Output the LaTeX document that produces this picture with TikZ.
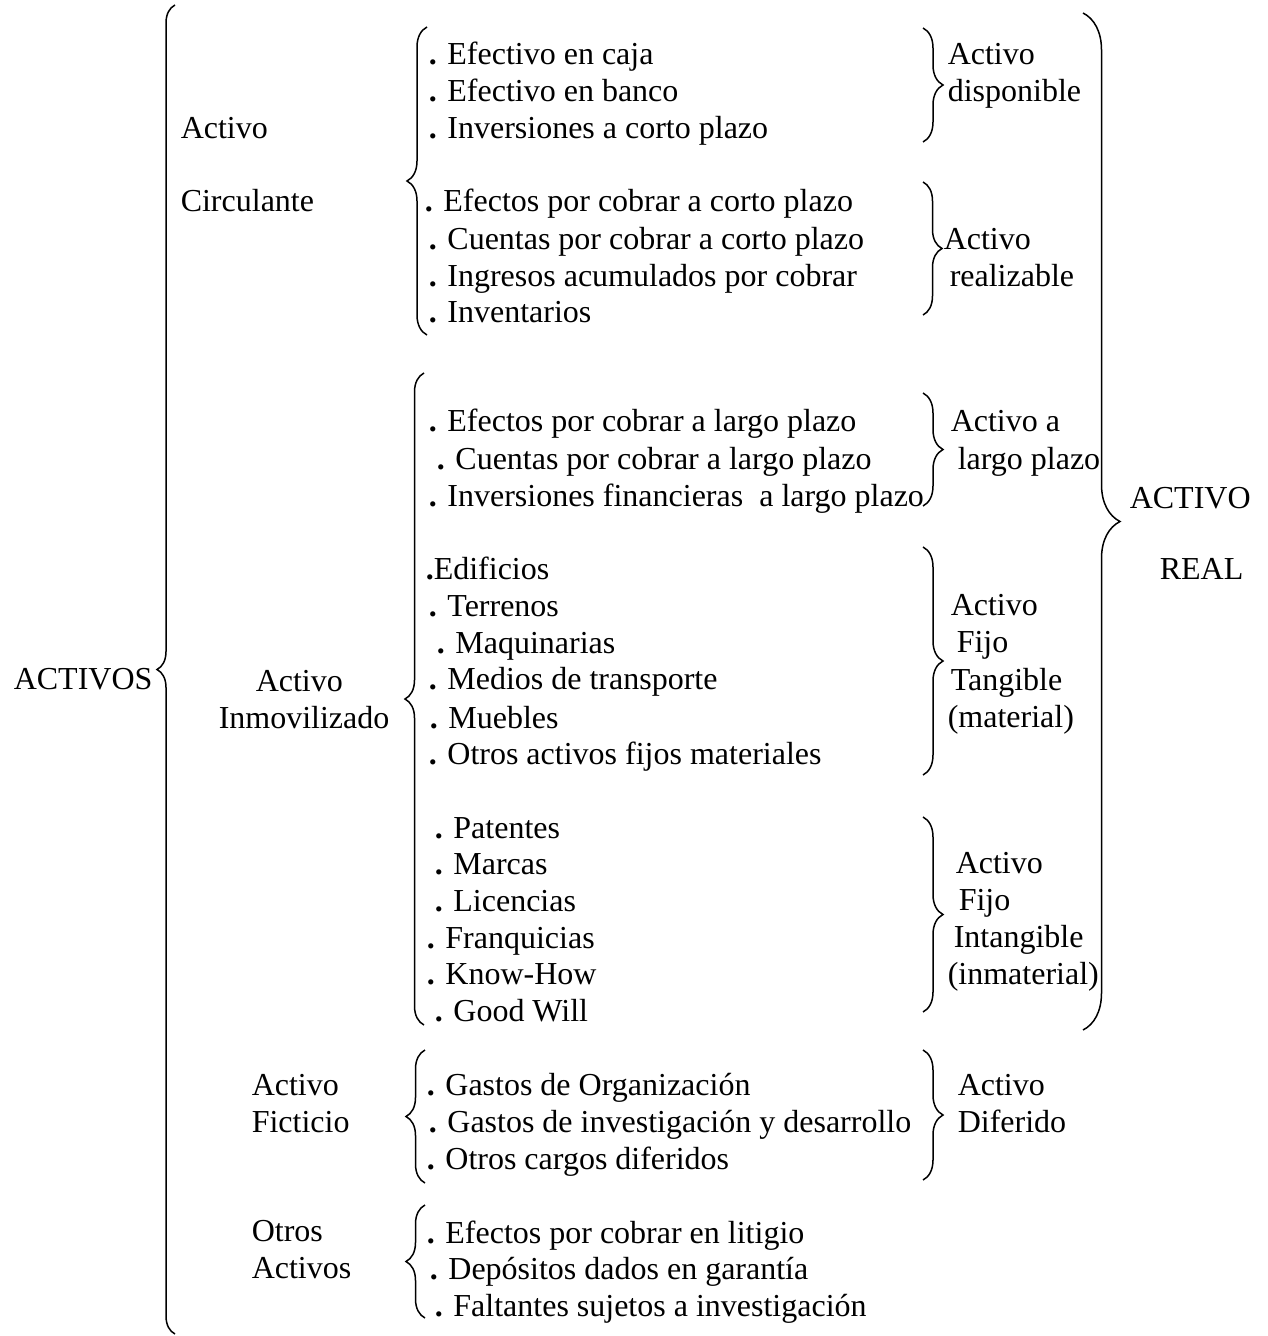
\documentclass[tikz,border=0pt]{standalone}
\usepackage{fontspec}
\setmainfont{Liberation Serif}
\usetikzlibrary{decorations.pathreplacing}

\begin{document}
\begin{tikzpicture}[x=1pt,y=-1pt,line width=1.5pt,
  txt/.style={anchor=base west,inner sep=0pt,font=\fontsize{32}{37}\selectfont},
  curly/.style={decorate,decoration={brace,amplitude=#1}},
  curly/.default=20]
\useasboundingbox (0,0) rectangle (1268,1336);
% left column
\node[txt] (actvs) at (13,689) {ACTIVOS};
\node[txt] (circA) at (180,138) {Activo};
\node[txt] (circB) at (180,211) {Circulante};
\node[txt] (inmA) at (255,691) {Activo};
\node[txt] (inmB) at (218,728) {Inmovilizado};
\node[txt] (ficA) at (251,1095) {Activo};
\node[txt] (ficB) at (251,1132) {Ficticio};
\node[txt] (otrA) at (251,1241) {Otros};
\node[txt] (otrB) at (251,1278) {Activos};
% activo circulante
\node[txt] (caja) at (428,64) {\textbf{.} Efectivo en caja};
\node[txt] (banco) at (428,101) {\textbf{.} Efectivo en banco};
\node[txt] (invcp) at (428,138) {\textbf{.} Inversiones a corto plazo};
\node[txt] (efcp) at (424,211) {\textbf{.} Efectos por cobrar a corto plazo};
\node[txt] (cucp) at (428,249) {\textbf{.} Cuentas por cobrar a corto plazo};
\node[txt] (ingr) at (428,286) {\textbf{.} Ingresos acumulados por cobrar};
\node[txt] (inven) at (428,322) {\textbf{.} Inventarios};
% activo inmovilizado
\node[txt] (eflp) at (428,431) {\textbf{.} Efectos por cobrar a largo plazo};
\node[txt] (culp) at (436,469) {\textbf{.} Cuentas por cobrar a largo plazo};
\node[txt] (inflp) at (428,506) {\textbf{.} Inversiones financieras~ a largo plazo};
\node[txt] (edif) at (425,579) {\textbf{.}Edificios};
\node[txt] (terr) at (428,616) {\textbf{.} Terrenos};
\node[txt] (maq) at (436,653) {\textbf{.} Maquinarias};
\node[txt] (medios) at (428,689) {\textbf{.} Medios de transporte};
\node[txt] (mueb) at (429,728) {\textbf{.} Muebles};
\node[txt] (otmat) at (428,764) {\textbf{.} Otros activos fijos materiales};
\node[txt] (pat) at (434,838) {\textbf{.} Patentes};
\node[txt] (marc) at (434,874) {\textbf{.} Marcas};
\node[txt] (lic) at (434,911) {\textbf{.} Licencias};
\node[txt] (franq) at (426,948) {\textbf{.} Franquicias};
\node[txt] (know) at (426,984) {\textbf{.} Know-How};
\node[txt] (good) at (434,1021) {\textbf{.} Good Will};
% activo ficticio y otros
\node[txt] (gorg) at (426,1095) {\textbf{.} Gastos de Organización};
\node[txt] (ginv) at (428,1132) {\textbf{.} Gastos de investigación y desarrollo};
\node[txt] (ocarg) at (426,1169) {\textbf{.} Otros cargos diferidos};
\node[txt] (eflit) at (426,1243) {\textbf{.} Efectos por cobrar en litigio};
\node[txt] (dep) at (429,1279) {\textbf{.} Depósitos dados en garantía};
\node[txt] (falt) at (434,1316) {\textbf{.} Faltantes sujetos a investigación};
% right labels
\node[txt] (dispA) at (947,64) {Activo};
\node[txt] (dispB) at (947,101) {disponible};
\node[txt] (realA) at (943,249) {Activo};
\node[txt] (realB) at (949,286) {realizable};
\node[txt] (lpA) at (950,431) {Activo a};
\node[txt] (lpB) at (957,469) {largo plazo};
\node[txt] (tanA) at (950,615) {Activo};
\node[txt] (tanB) at (956,652) {Fijo};
\node[txt] (tanC) at (950,690) {Tangible};
\node[txt] (tanD) at (947,727) {(material)};
\node[txt] (intA) at (955,873) {Activo};
\node[txt] (intB) at (958,910) {Fijo};
\node[txt] (intC) at (953,947) {Intangible};
\node[txt] (intD) at (947,984) {(inmaterial)};
\node[txt] (difA) at (957,1095) {Activo};
\node[txt] (difB) at (957,1132) {Diferido};
\node[txt] (arA) at (1129,508) {ACTIVO};
\node[txt] (arB) at (1159,579) {REAL};
% brace ends
\coordinate (b0t) at (175,5);   \coordinate (b0b) at (175,1334);
\coordinate (b1t) at (427,27);  \coordinate (b1b) at (427,335);
\coordinate (b2t) at (424,373); \coordinate (b2b) at (424,1025);
\coordinate (b3t) at (425,1050); \coordinate (b3b) at (425,1183);
\coordinate (b4t) at (425,1205); \coordinate (b4b) at (425,1318);
\coordinate (r1t) at (923,28);  \coordinate (r1b) at (923,142);
\coordinate (r2t) at (923,182); \coordinate (r2b) at (923,315);
\coordinate (r3t) at (923,393); \coordinate (r3b) at (923,506);
\coordinate (r4t) at (923,547); \coordinate (r4b) at (923,775);
\coordinate (r5t) at (923,817); \coordinate (r5b) at (923,1012);
\coordinate (r6t) at (923,1050); \coordinate (r6b) at (923,1180);
\coordinate (r7t) at (1083,13); \coordinate (r7b) at (1083,1030);
% opening braces
\draw[curly=18] (b0b) -- (b0t);
\draw[curly] (b1b) -- (b1t);
\draw[curly=19] (b2b) -- (b2t);
\draw[curly=19] (b3b) -- (b3t);
\draw[curly=19] (b4b) -- (b4t);
% closing braces
\draw[curly] (r1t) -- (r1b);
\draw[curly=19] (r2t) -- (r2b);
\draw[curly] (r3t) -- (r3b);
\draw[curly] (r4t) -- (r4b);
\draw[curly] (r5t) -- (r5b);
\draw[curly] (r6t) -- (r6b);
\draw[curly=37] (r7t) -- (r7b);
\end{tikzpicture}
\end{document}
